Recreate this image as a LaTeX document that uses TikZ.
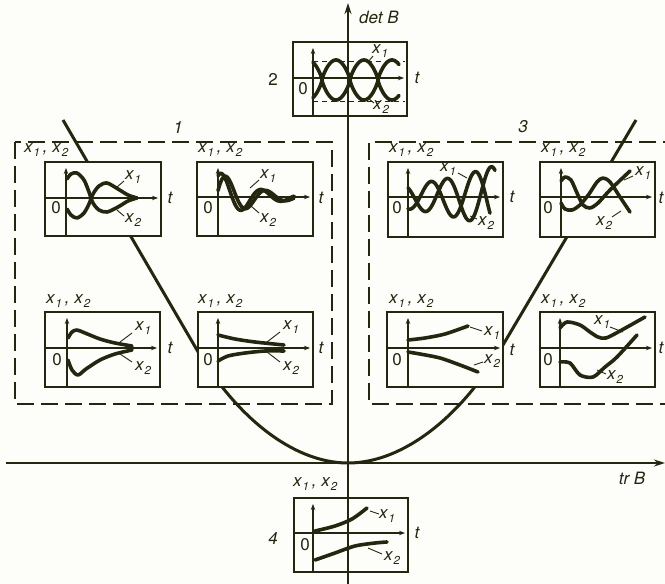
\documentclass[tikz,border=0pt]{standalone}
\usepackage{fontspec}
\setmainfont{TeX Gyre Heros}
\usetikzlibrary{arrows.meta}
\definecolor{ink}{RGB}{36,38,16}
\definecolor{paper}{RGB}{253,253,249}
\newcommand{\xsub}[1]{\textit{x}\kern0.06em\raisebox{-0.45ex}{\fontsize{11.5}{11.5}\selectfont\itshape #1}}
\newcommand{\xpair}{\xsub{1}\,,\;\xsub{2}}
\newcommand{\panel}[6]{% l, t, r, b, vx, ty
  \draw[panelbox] (#1,#2) rectangle (#3,#4);
  \draw[inaxis] (#5,#4) -- (#5,{#2+6});
  \draw[inaxis] (#1,#6) -- ({#3-3},#6);
}
\tikzset{
  lbl/.style={font=\fontsize{17}{19}\selectfont\itshape, text=ink, inner sep=0pt},
  num/.style={font=\fontsize{17}{19}\selectfont, text=ink, inner sep=0pt},
  panelbox/.style={draw=ink, line width=1.6pt, fill=paper},
  mainaxis/.style={draw=ink, line width=2pt},
  inaxis/.style={draw=ink, line width=1.2pt, -{Stealth[length=6pt,width=4.5pt]}},
  curve/.style={draw=ink, line width=3.6pt, line cap=round, line join=round},
  leader/.style={draw=ink, line width=0.9pt},
  region/.style={draw=ink, line width=1.8pt, dash pattern=on 17pt off 7pt},
  guide/.style={draw=ink, line width=0.8pt, dash pattern=on 5pt off 4pt},
  branch/.style={draw=ink, line width=3pt},
}
\begin{document}
\begin{tikzpicture}[x=1pt,y=-1pt]
\fill[paper] (0,0) rectangle (665,584);
\useasboundingbox (0,0) rectangle (665,584);

% dashed regions
\draw[region] (15,142) rectangle (332,404);
\draw[region] (680,142) -- (369,142) -- (369,404) -- (680,404);
\node[lbl] (n1) at (178,127) {1};
\node[lbl] (n3) at (523,127) {3};

% boundary parabola
\draw[branch] (63,120) -- (197,350) .. controls (235,415) and (292,463) .. (348,463);
\draw[branch] (636,120) -- (500,350) .. controls (462,415) and (404,463) .. (348,463);

% panels
\panel{293}{42}{407}{116}{313}{78}
\panel{45}{162}{161}{236}{66}{198}
\panel{197}{162}{313}{236}{218}{197}
\panel{45}{312}{160}{387}{67}{348}
\panel{198}{312}{313}{387}{218}{348}
\panel{388}{162}{503}{237}{408}{197}
\panel{540}{162}{655}{237}{561}{197}
\panel{387}{312}{503}{387}{408}{348}
\panel{540}{312}{655}{387}{560}{348}
\panel{294}{498}{408}{572}{313}{533}

% main axes
\draw[mainaxis, -{Stealth[length=11pt,width=7pt]}] (348,584) -- (348,3);
\draw[mainaxis, -{Stealth[length=11pt,width=7pt]}] (6,463) -- (665,463);
\node[lbl, anchor=west] (detB) at (359,17) {det B};
\node[lbl] (trB) at (632,478) {tr B};

% ---------- panel 2 ----------
\draw[guide] (313,61) -- (405,61);
\draw[guide] (313,101) -- (405,101);
\draw[curve] plot[domain=313:399,samples=200] (\x,{80+20*sin((\x-322)*6.43)*pow(abs(sin((\x-322)*6.43))+0.001,-0.25)});
\draw[curve] plot[domain=313:399,samples=200] (\x,{80-20*sin((\x-322)*6.43)*pow(abs(sin((\x-322)*6.43))+0.001,-0.25)});
\node[num] (l2) at (273,79) {2};
\node[lbl] (t2) at (417,78) {t};
\node[num] (z2) at (303,89) {0};
\node[lbl] (a2) at (380,51) {\xsub{1}};
\node[lbl] (b2) at (381,107) {\xsub{2}};
\draw[leader] (368,62) -- (373,56);
\draw[leader] (369,99) -- (374,103);

% ---------- panel A ----------
\draw[curve] plot[smooth] coordinates {(67,179) (71,174) (77,173) (84,180) (89,192) (93,203) (99,210) (107,212) (118,207) (128,201) (137,198)};
\draw[curve] plot[smooth] coordinates {(67,209) (71,215) (77,218) (84,213) (89,204) (93,194) (99,186) (107,183) (118,189) (128,195) (137,198)};
\node[lbl, anchor=west] (pA) at (24,150) {\xpair};
\node[lbl] (tA) at (170,198) {t};
\node[num] (zA) at (56,208) {0};
\node[lbl] (aA) at (133,177) {\xsub{1}};
\node[lbl] (bA) at (133,220) {\xsub{2}};
\draw[leader] (117,187) -- (124,181);
\draw[leader] (117,210) -- (124,216);

% ---------- panel B ----------
\draw[curve] plot[domain=218:294,samples=150] (\x,{197-26*exp(-(\x-218)/35)*cos((\x-222)*9)});
\draw[curve] plot[domain=218:294,samples=150] (\x,{197-26*exp(-(\x-218)/35)*cos((\x-222)*9-40)});
\node[lbl, anchor=west] (pB) at (198,150) {\xpair};
\node[lbl] (tB) at (321,198) {t};
\node[num] (zB) at (208,208) {0};
\node[lbl] (aB) at (268,176) {\xsub{1}};
\node[lbl] (bB) at (268,220) {\xsub{2}};
\draw[leader] (250,188) -- (259,180);
\draw[leader] (251,206) -- (259,213);

% ---------- panel C ----------
\draw[curve] plot[smooth] coordinates {(68,338) (72,332) (77,330) (85,333) (100,339) (115,343) (132,346)};
\draw[curve] plot[smooth] coordinates {(68,360) (72,370) (78,375) (86,369) (100,360) (115,354) (132,350)};
\node[lbl, anchor=west] (pC) at (46,301) {\xpair};
\node[lbl] (tC) at (170,348) {t};
\node[num] (zC) at (57,360) {0};
\node[lbl] (aC) at (143,328) {\xsub{1}};
\node[lbl] (bC) at (143,368) {\xsub{2}};
\draw[leader] (120,342) -- (132,333);
\draw[leader] (120,354) -- (132,362);

% ---------- panel D ----------
\draw[curve] plot[smooth] coordinates {(218,335) (235,339) (255,342) (284,345)};
\draw[curve] plot[smooth] coordinates {(218,361) (228,356) (245,353) (265,351) (284,351)};
\node[lbl, anchor=west] (pD) at (198,301) {\xpair};
\node[lbl] (tD) at (321,348) {t};
\node[num] (zD) at (208,360) {0};
\node[lbl] (aD) at (291,327) {\xsub{1}};
\node[lbl] (bD) at (291,368) {\xsub{2}};
\draw[leader] (267,342) -- (280,332);
\draw[leader] (267,352) -- (280,362);

% ---------- panel E ----------
\draw[curve] plot[domain=408:495,samples=150] (\x,{197-12*exp((\x-408)/90)*cos((\x-447)*8.18)});
\draw[curve] plot[domain=408:490,samples=150] (\x,{197-12*exp((\x-408)/90)*cos((\x-475)*8.18)});
\node[lbl, anchor=west] (pE) at (389,150) {\xpair};
\node[lbl] (tE) at (512,197) {t};
\node[num] (zE) at (397,208) {0};
\node[lbl] (aE) at (448,169) {\xsub{1}};
\node[lbl] (bE) at (486,223) {\xsub{2}};
\draw[leader] (458,173) -- (467,178);
\draw[leader] (470,216) -- (477,219);

% ---------- panel F ----------
\draw[curve] plot[smooth] coordinates {(561,181) (565,177) (571,180) (577,193) (583,205) (590,208) (598,203) (610,190) (630,171)};
\draw[curve] plot[smooth] coordinates {(561,203) (565,209) (572,210) (580,205) (589,194) (597,182) (603,178) (610,182) (620,197) (630,212)};
\node[lbl, anchor=west] (pF) at (541,150) {\xpair};
\node[lbl] (tF) at (661,198) {t};
\node[num] (zF) at (548,208) {0};
\node[lbl] (aF) at (643,173) {\xsub{1}};
\node[lbl] (bF) at (604,223) {\xsub{2}};
\draw[leader] (624,180) -- (633,176);
\draw[leader] (612,217) -- (621,211);

% ---------- panel G ----------
\draw[curve] plot[smooth] coordinates {(408,340) (425,338) (445,334) (468,326)};
\draw[curve] plot[smooth] coordinates {(408,352) (420,354) (440,358) (460,365) (478,372)};
\node[lbl, anchor=west] (pG) at (389,301) {\xpair};
\node[lbl] (tG) at (512,350) {t};
\node[num] (zG) at (397,360) {0};
\node[lbl] (aG) at (492,333) {\xsub{1}};
\node[lbl] (bG) at (492,361) {\xsub{2}};
\draw[leader] (470,327) -- (482,331);
\draw[leader] (474,365) -- (483,362);

% ---------- panel H ----------
\draw[curve] plot[smooth] coordinates {(560,328) (567,322) (580,325) (590,332) (598,337) (606,338) (620,331) (645,317)};
\draw[curve] plot[smooth] coordinates {(560,362) (570,363) (580,375) (593,377) (605,367) (617,357) (637,335)};
\node[lbl, anchor=west] (pH) at (541,301) {\xpair};
\node[lbl] (tH) at (661,348) {t};
\node[num] (zH) at (548,360) {0};
\node[lbl] (aH) at (602,322) {\xsub{1}};
\node[lbl] (bH) at (615,377) {\xsub{2}};
\draw[leader] (610,327) -- (623,332);
\draw[leader] (597,370) -- (606,374);

% ---------- panel 4 ----------
\draw[curve] plot[smooth] coordinates {(315,531) (335,526) (352,519) (367,508)};
\draw[curve] plot[smooth] coordinates {(315,560) (335,553) (355,546) (375,543) (387,542)};
\node[lbl, anchor=west] (p4) at (293,484) {\xpair};
\node[lbl] (n4) at (273,538) {4};
\node[lbl] (t4) at (417,533) {t};
\node[num] (z4) at (305,545) {0};
\node[lbl] (a4) at (387,516) {\xsub{1}};
\node[lbl] (b4) at (392,558) {\xsub{2}};
\draw[leader] (370,511) -- (379,514);
\draw[leader] (368,548) -- (382,554);
\end{tikzpicture}
\end{document}
